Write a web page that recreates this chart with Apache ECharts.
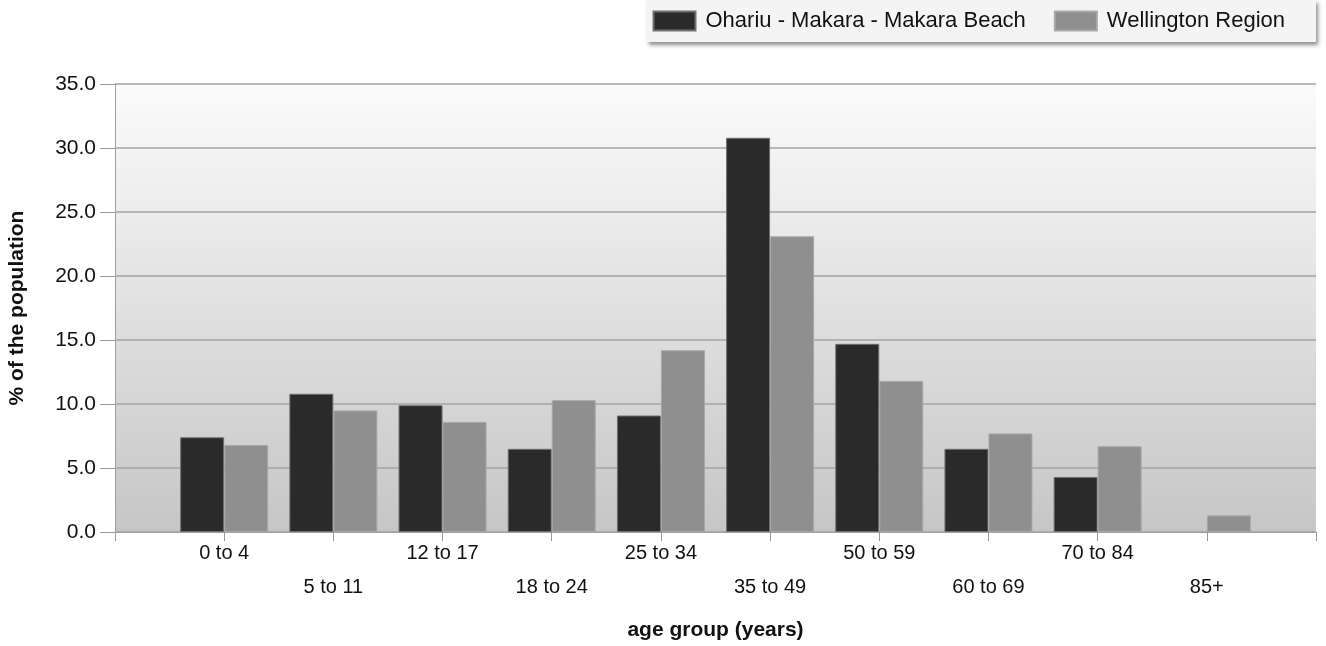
<!DOCTYPE html>
<html>
<head>
<meta charset="utf-8">
<script src="https://cdn.jsdelivr.net/npm/echarts@6/dist/echarts.min.js"></script>
<style>
  html, body { margin: 0; padding: 0; background: #fff; }
  #chart { width: 1326px; height: 646px; }
</style>
</head>
<body>
<div id="chart"></div>
<script>
// age groups and percentages
const ageGroups = ["0 to 4", "5 to 11", "12 to 17", "18 to 24", "25 to 34", "35 to 49", "50 to 59", "60 to 69", "70 to 84", "85+"];
const ohariu = [7.4, 10.8, 9.9, 6.5, 9.1, 30.8, 14.7, 6.5, 4.3, null];
const wellington = [6.8, 9.5, 8.6, 10.3, 14.2, 23.1, 11.8, 7.7, 6.7, 1.3];
const yTicks = [0, 5, 10, 15, 20, 25, 30, 35];

const font = "'Liberation Sans', Arial, sans-serif";

// groups sit at positions 1..n on a numeric axis, with a spare slot at each end
const toPoints = (arr) => arr.map((v, i) => [i + 1, v]);

const chart = echarts.init(document.getElementById("chart"));

chart.setOption({
  animation: false,
  textStyle: { fontFamily: font },
  legend: {
    top: 0,
    right: 10,
    icon: "rect",
    itemWidth: 42,
    itemHeight: 19,
    itemGap: 28,
    padding: [10, 31, 10, 6],
    backgroundColor: "#f4f4f4",
    shadowBlur: 4,
    shadowOffsetX: 2,
    shadowOffsetY: 3,
    shadowColor: "rgba(0, 0, 0, 0.45)",
    textStyle: { fontSize: 22, color: "#111", fontFamily: font, padding: [0, 0, 0, 5] },
    data: ["Ohariu - Makara - Makara Beach", "Wellington Region"],
  },
  grid: {
    left: 115,
    right: 10,
    top: 84,
    bottom: 114,
    outerBoundsMode: "none",
    containLabel: false,
    show: true,
    borderWidth: 0,
    backgroundColor: {
      type: "linear",
      x: 0, y: 0, x2: 0, y2: 1,
      colorStops: [
        { offset: 0, color: "#fbfbfb" },
        { offset: 1, color: "#c6c6c6" },
      ],
    },
  },
  xAxis: {
    type: "value",
    min: 0,
    max: ageGroups.length + 1,
    interval: 1,
    name: "age group (years)",
    nameLocation: "middle",
    nameGap: 88,
    nameTextStyle: { fontSize: 21, fontWeight: "bold", color: "#111", fontFamily: font },
    axisLine: { show: true, lineStyle: { color: "#a0a0a0", width: 1 } },
    axisTick: { show: true, length: 9, lineStyle: { color: "#999" } },
    axisLabel: {
      margin: 4,
      fontSize: 20,
      color: "#111",
      lineHeight: 34,
      fontFamily: font,
      showMinLabel: true,
      showMaxLabel: true,
      formatter: (v) => {
        const name = ageGroups[v - 1] || "";
        return v % 2 === 1 ? name : "\n" + name;
      },
    },
    splitLine: { show: false },
  },
  yAxis: {
    type: "value",
    min: yTicks[0],
    max: yTicks[yTicks.length - 1],
    interval: yTicks[1] - yTicks[0],
    name: "% of the population",
    nameLocation: "middle",
    nameGap: 87,
    nameTextStyle: { fontSize: 21, fontWeight: "bold", color: "#111", fontFamily: font },
    axisLine: { show: true, lineStyle: { color: "#a0a0a0", width: 1 } },
    axisTick: { show: true, length: 15, lineStyle: { color: "#999" } },
    axisLabel: {
      margin: 19,
      fontSize: 21,
      color: "#111",
      fontFamily: font,
      formatter: (v) => v.toFixed(1),
    },
    splitLine: { show: true, lineStyle: { color: "#a3a3a3", width: 1.5 } },
  },
  series: [
    {
      name: "Ohariu - Makara - Makara Beach",
      type: "bar",
      data: toPoints(ohariu),
      barWidth: 44,
      barGap: "0%",
      itemStyle: { color: "#2a2a2a", borderColor: "#707070", borderWidth: 1 },
    },
    {
      name: "Wellington Region",
      type: "bar",
      data: toPoints(wellington),
      barWidth: 44,
      barGap: "0%",
      itemStyle: { color: "#8f8f8f", borderColor: "#a8a8a8", borderWidth: 1 },
    },
  ],
});

window.addEventListener("resize", () => {
  chart.resize();
});
</script>
</body>
</html>
